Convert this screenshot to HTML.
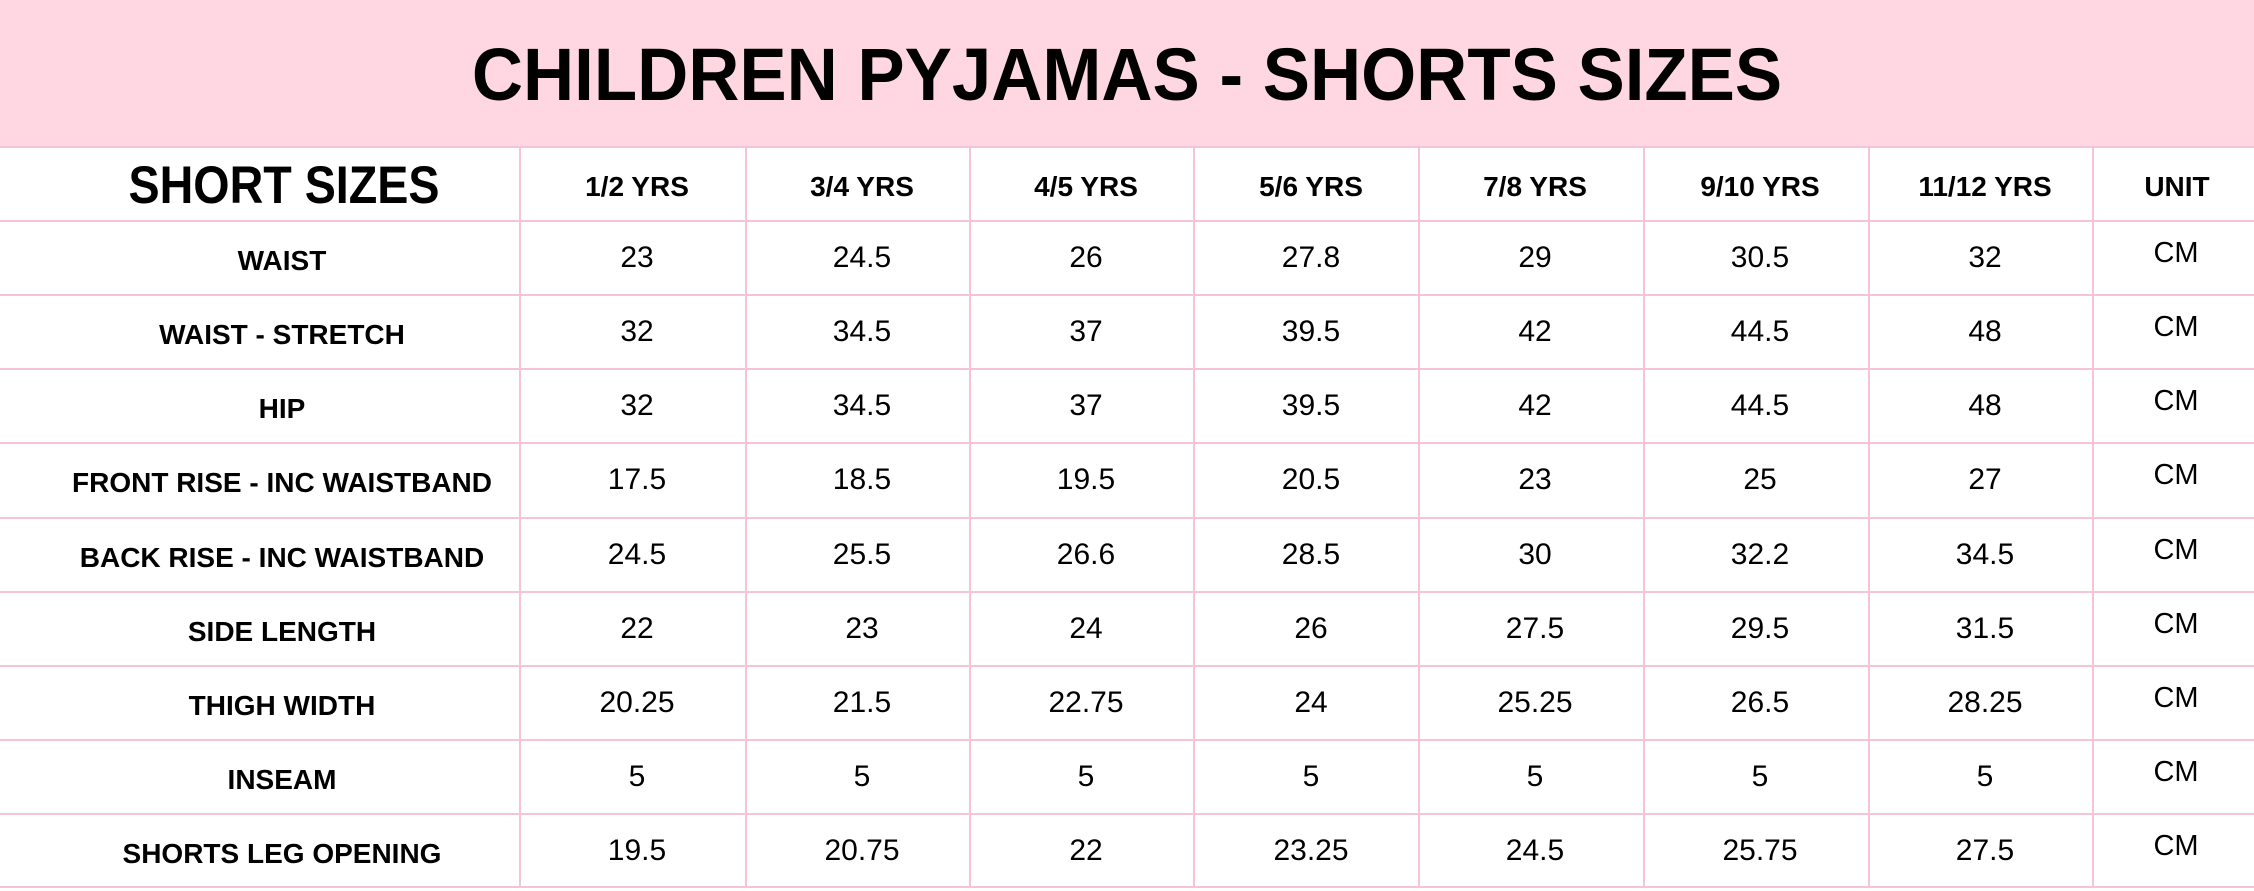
<!DOCTYPE html>
<html>
<head>
<meta charset="utf-8">
<style>
  html,body{margin:0;padding:0;}
  body{width:2254px;height:888px;position:relative;overflow:hidden;background:#fff;
       font-family:"Liberation Sans", Arial, sans-serif;color:#000;}
  .band{position:absolute;left:0;top:0;width:2254px;height:147px;background:#ffd7e2;}
  .title{position:absolute;left:0;top:38px;width:2254px;height:74px;line-height:74px;
         text-align:center;font-weight:bold;font-size:74px;transform:scaleX(0.957);transform-origin:1127px 0;white-space:nowrap;}
  .h{position:absolute;left:0;width:2254px;height:2px;background:#f5c4d6;}
  .v{position:absolute;top:147px;width:2px;height:741px;background:#f5c4d6;}
  .row{position:absolute;left:0;width:2254px;height:74px;}
  .c{position:absolute;top:0;height:74px;line-height:74px;text-align:center;white-space:nowrap;width:300px;}
  .lab{font-weight:bold;font-size:28px;top:3px;left:12px !important;width:540px !important;}
  .num{font-size:30px;}
  .cm{font-size:29px;top:-5px;}
  .hd{font-weight:bold;font-size:28px;top:3px;}
</style>
</head>
<body>
<div class="band"></div>
<div class="title">CHILDREN PYJAMAS - SHORTS SIZES</div>

<div class="h" style="top:146px"></div>
<div class="h" style="top:220px"></div>
<div class="h" style="top:294px"></div>
<div class="h" style="top:368px"></div>
<div class="h" style="top:442px"></div>
<div class="h" style="top:517px"></div>
<div class="h" style="top:591px"></div>
<div class="h" style="top:665px"></div>
<div class="h" style="top:739px"></div>
<div class="h" style="top:813px"></div>
<div class="h" style="top:886px"></div>

<div class="v" style="left:519px"></div>
<div class="v" style="left:745px"></div>
<div class="v" style="left:969px"></div>
<div class="v" style="left:1193px"></div>
<div class="v" style="left:1418px"></div>
<div class="v" style="left:1643px"></div>
<div class="v" style="left:1868px"></div>
<div class="v" style="left:2092px"></div>

<div class="row" style="top:147px">
  <div class="c" style="left:84px;width:400px;font-weight:bold;font-size:53px;top:2px;transform:scaleX(0.88);">SHORT SIZES</div>
  <div class="c hd" style="left:487px">1/2 YRS</div>
  <div class="c hd" style="left:712px">3/4 YRS</div>
  <div class="c hd" style="left:936px">4/5 YRS</div>
  <div class="c hd" style="left:1161px">5/6 YRS</div>
  <div class="c hd" style="left:1385px">7/8 YRS</div>
  <div class="c hd" style="left:1610px">9/10 YRS</div>
  <div class="c hd" style="left:1835px">11/12 YRS</div>
  <div class="c hd" style="left:2027px">UNIT</div>
</div>

<div class="row" style="top:221px">
  <div class="c lab">WAIST</div>
  <div class="c num" style="left:487px">23</div>
  <div class="c num" style="left:712px">24.5</div>
  <div class="c num" style="left:936px">26</div>
  <div class="c num" style="left:1161px">27.8</div>
  <div class="c num" style="left:1385px">29</div>
  <div class="c num" style="left:1610px">30.5</div>
  <div class="c num" style="left:1835px">32</div>
  <div class="c cm" style="left:2026px">CM</div>
</div>

<div class="row" style="top:295px">
  <div class="c lab">WAIST - STRETCH</div>
  <div class="c num" style="left:487px">32</div>
  <div class="c num" style="left:712px">34.5</div>
  <div class="c num" style="left:936px">37</div>
  <div class="c num" style="left:1161px">39.5</div>
  <div class="c num" style="left:1385px">42</div>
  <div class="c num" style="left:1610px">44.5</div>
  <div class="c num" style="left:1835px">48</div>
  <div class="c cm" style="left:2026px">CM</div>
</div>

<div class="row" style="top:369px">
  <div class="c lab">HIP</div>
  <div class="c num" style="left:487px">32</div>
  <div class="c num" style="left:712px">34.5</div>
  <div class="c num" style="left:936px">37</div>
  <div class="c num" style="left:1161px">39.5</div>
  <div class="c num" style="left:1385px">42</div>
  <div class="c num" style="left:1610px">44.5</div>
  <div class="c num" style="left:1835px">48</div>
  <div class="c cm" style="left:2026px">CM</div>
</div>

<div class="row" style="top:443px">
  <div class="c lab">FRONT RISE - INC WAISTBAND</div>
  <div class="c num" style="left:487px">17.5</div>
  <div class="c num" style="left:712px">18.5</div>
  <div class="c num" style="left:936px">19.5</div>
  <div class="c num" style="left:1161px">20.5</div>
  <div class="c num" style="left:1385px">23</div>
  <div class="c num" style="left:1610px">25</div>
  <div class="c num" style="left:1835px">27</div>
  <div class="c cm" style="left:2026px">CM</div>
</div>

<div class="row" style="top:518px">
  <div class="c lab">BACK RISE - INC WAISTBAND</div>
  <div class="c num" style="left:487px">24.5</div>
  <div class="c num" style="left:712px">25.5</div>
  <div class="c num" style="left:936px">26.6</div>
  <div class="c num" style="left:1161px">28.5</div>
  <div class="c num" style="left:1385px">30</div>
  <div class="c num" style="left:1610px">32.2</div>
  <div class="c num" style="left:1835px">34.5</div>
  <div class="c cm" style="left:2026px">CM</div>
</div>

<div class="row" style="top:592px">
  <div class="c lab">SIDE LENGTH</div>
  <div class="c num" style="left:487px">22</div>
  <div class="c num" style="left:712px">23</div>
  <div class="c num" style="left:936px">24</div>
  <div class="c num" style="left:1161px">26</div>
  <div class="c num" style="left:1385px">27.5</div>
  <div class="c num" style="left:1610px">29.5</div>
  <div class="c num" style="left:1835px">31.5</div>
  <div class="c cm" style="left:2026px">CM</div>
</div>

<div class="row" style="top:666px">
  <div class="c lab">THIGH WIDTH</div>
  <div class="c num" style="left:487px">20.25</div>
  <div class="c num" style="left:712px">21.5</div>
  <div class="c num" style="left:936px">22.75</div>
  <div class="c num" style="left:1161px">24</div>
  <div class="c num" style="left:1385px">25.25</div>
  <div class="c num" style="left:1610px">26.5</div>
  <div class="c num" style="left:1835px">28.25</div>
  <div class="c cm" style="left:2026px">CM</div>
</div>

<div class="row" style="top:740px">
  <div class="c lab">INSEAM</div>
  <div class="c num" style="left:487px">5</div>
  <div class="c num" style="left:712px">5</div>
  <div class="c num" style="left:936px">5</div>
  <div class="c num" style="left:1161px">5</div>
  <div class="c num" style="left:1385px">5</div>
  <div class="c num" style="left:1610px">5</div>
  <div class="c num" style="left:1835px">5</div>
  <div class="c cm" style="left:2026px">CM</div>
</div>

<div class="row" style="top:814px">
  <div class="c lab">SHORTS LEG OPENING</div>
  <div class="c num" style="left:487px">19.5</div>
  <div class="c num" style="left:712px">20.75</div>
  <div class="c num" style="left:936px">22</div>
  <div class="c num" style="left:1161px">23.25</div>
  <div class="c num" style="left:1385px">24.5</div>
  <div class="c num" style="left:1610px">25.75</div>
  <div class="c num" style="left:1835px">27.5</div>
  <div class="c cm" style="left:2026px">CM</div>
</div>
</body>
</html>
